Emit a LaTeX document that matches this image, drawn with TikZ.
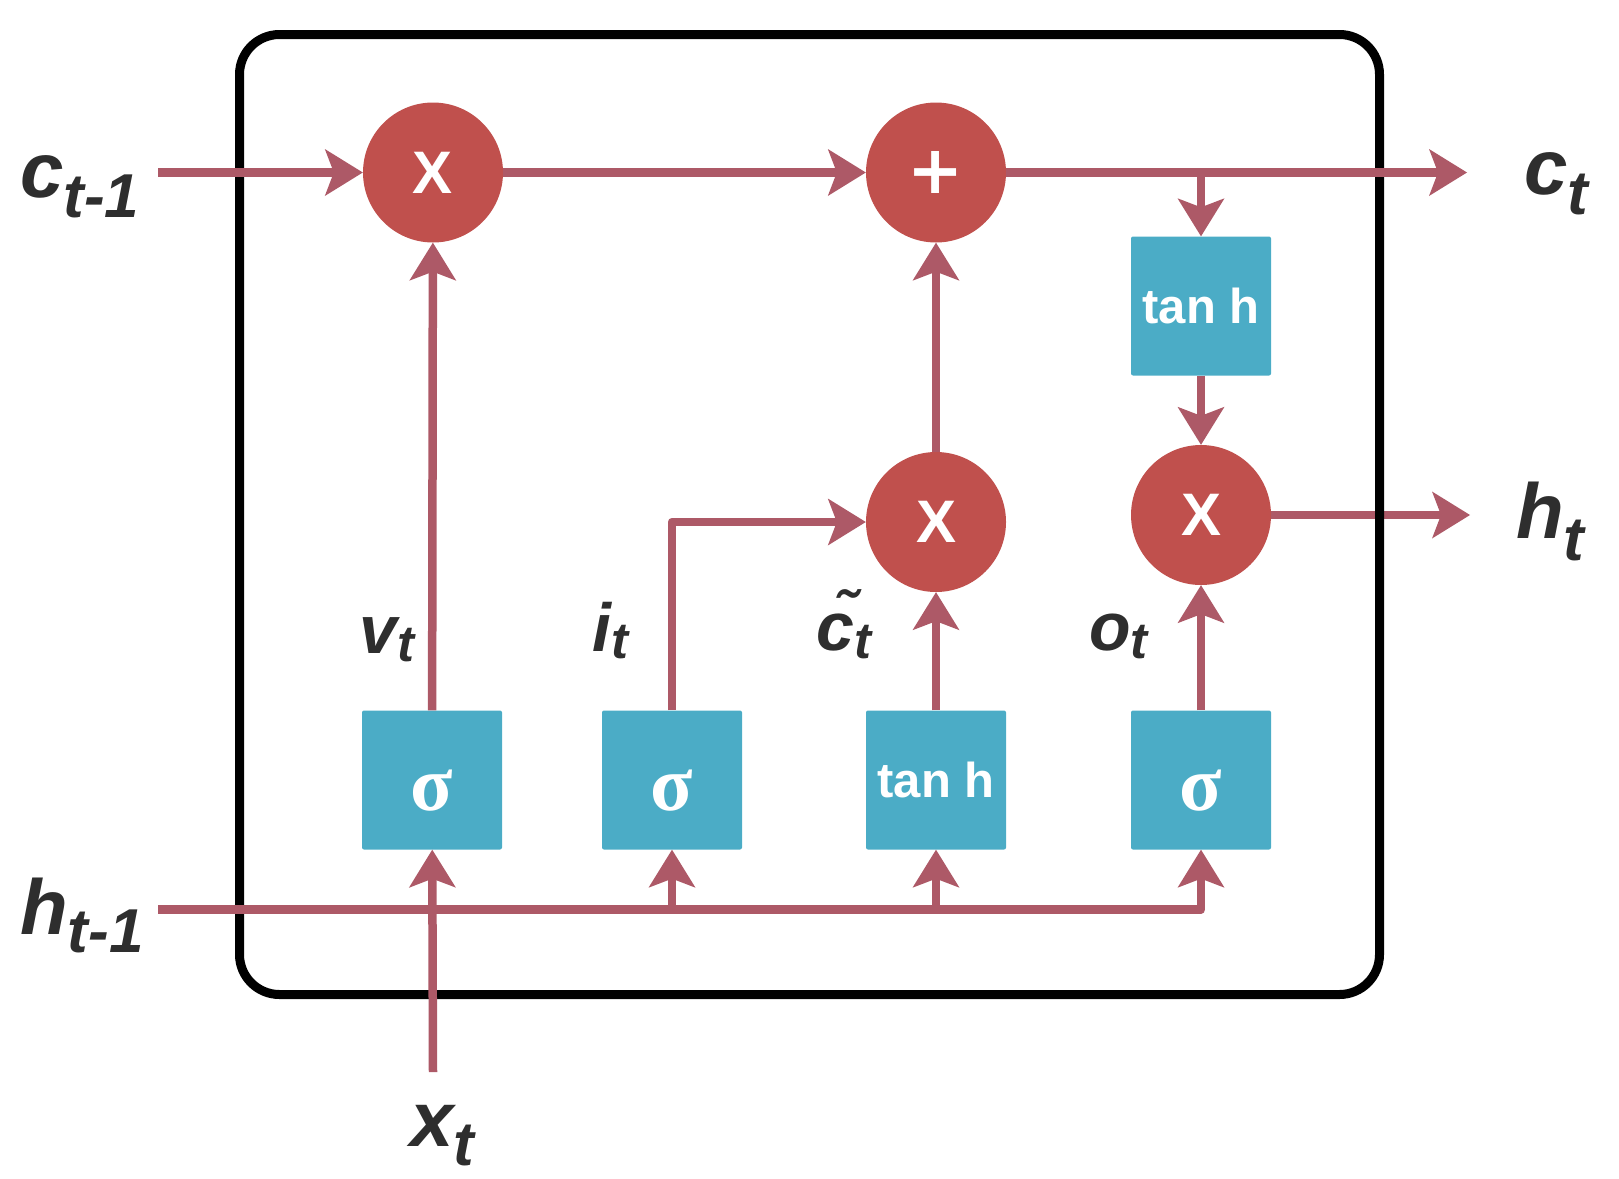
\documentclass[tikz,border=0pt]{standalone}
\usepackage{fontspec}
\setmainfont{Liberation Sans}
\newfontfamily\dvsfont{DejaVu Sans}
\newfontfamily\serfont{Liberation Serif}
\usetikzlibrary{arrows.meta}
\definecolor{lnc}{RGB}{173,89,103}
\definecolor{redc}{RGB}{192,80,77}
\definecolor{tealc}{RGB}{75,172,198}
\definecolor{txtc}{RGB}{46,46,46}
\newcommand\mylbl[5]{{\fontsize{#3}{#3}\selectfont #1}{\fontsize{#4}{#4}\selectfont\raisebox{-#5}{#2}}}
\newcommand\sigmatxt{\smash{\raisebox{-30pt}{\serfont\bfseries\fontsize{78}{78}\selectfont σ}}}
\begin{document}
\begin{tikzpicture}[x=1pt,y=-1pt,
  conn/.style={draw=lnc,line width=8.5pt,line join=round},
  arr/.style={conn,-{Stealth[length=38pt,width=47pt,inset=9pt,line width=0pt,color=lnc,fill=lnc]}},
  opc/.style={circle,fill=redc,minimum size=140pt,inner sep=0pt,text=white,
    font=\bfseries\fontsize{60}{60}\selectfont},
  fbox/.style={rectangle,rounded corners=2pt,fill=tealc,minimum width=140pt,
    minimum height=139pt,inner sep=0pt,text=white,font=\bfseries\fontsize{49}{49}\selectfont},
  lbl/.style={anchor=base west,inner sep=0pt,text=txtc,font=\bfseries\itshape}]
\useasboundingbox (0,0) rectangle (1619,1178);

% nodes
\node[opc] (m1) at (433,172.5) {X};
\node[opc,font=\dvsfont\bfseries\fontsize{67}{67}\selectfont] (add) at (936,172.5) {+};
\node[opc] (m2) at (936,522) {X};
\node[opc] (m3) at (1201,515) {X};
\node[fbox] (th1) at (1201,306) {tan h};
\node[fbox] (b1) at (432,780) {\sigmatxt};
\node[fbox] (b2) at (672,780) {\sigmatxt};
\node[fbox] (b3) at (936,780) {tan h};
\node[fbox] (b4) at (1201,780) {\sigmatxt};

% coordinates
\coordinate (cin) at (158,172.5);
\coordinate (cout) at (1467,172.5);
\coordinate (cbr) at (1201,172.5);
\coordinate (hout) at (1470,515);
\coordinate (hin) at (158,909.5);
\coordinate (j2) at (672,909.5);
\coordinate (j3) at (936,909.5);
\coordinate (xin) at (433,1072);

% h_t output line (under the frame)
\draw[arr] (m3) -- (hout);

% frame
\node[draw=black,line width=9pt,rounded corners=40pt,minimum width=1140pt,
  minimum height=960pt,inner sep=0pt] (cell) at (809.5,514.5) {};

% connectors
\draw[arr] (cin) -- (m1);
\draw[arr] (m1) -- (add);
\draw[arr] (add) -- (cout);
\draw[arr] (cbr) -- (th1);
\draw[arr] (th1) -- (m3);
\draw[arr] (m2) -- (add);
\draw[arr] (b1) -- (m1);
\draw[arr] (b2.north) |- (m2);
\draw[arr] (b3) -- (m2);
\draw[arr] (b4) -- (m3);
\draw[arr] (hin) -| (b4);
\draw[arr] (j2) -- (b2);
\draw[arr] (j3) -- (b3);
\draw[arr] (xin) -- (b1);

% labels
\node[lbl] (lcin) at (20,197) {\mylbl{c}{t-1}{78pt}{62pt}{20pt}};
\node[lbl] (lhin) at (20,934) {\mylbl{h}{t-1}{78pt}{62pt}{18pt}};
\node[lbl] (lcout) at (1524,194) {\mylbl{c}{t}{78pt}{62pt}{20pt}};
\node[lbl] (lhout) at (1516,538) {\mylbl{h}{t}{78pt}{62pt}{22pt}};
\node[lbl] (lxin) at (410,1146) {\mylbl{x}{t}{78pt}{62pt}{19pt}};
\node[lbl] (lv) at (359,653) {\mylbl{v}{t}{68pt}{51pt}{8pt}};
\node[lbl] (li) at (592,651) {\mylbl{i}{t}{68pt}{51pt}{7pt}};
\node[lbl] (lc) at (816,650) {\mylbl{\~c}{t}{68pt}{51pt}{8pt}};
\node[lbl] (lo) at (1089,650) {\mylbl{o}{t}{68pt}{51pt}{8pt}};
\end{tikzpicture}
\end{document}
